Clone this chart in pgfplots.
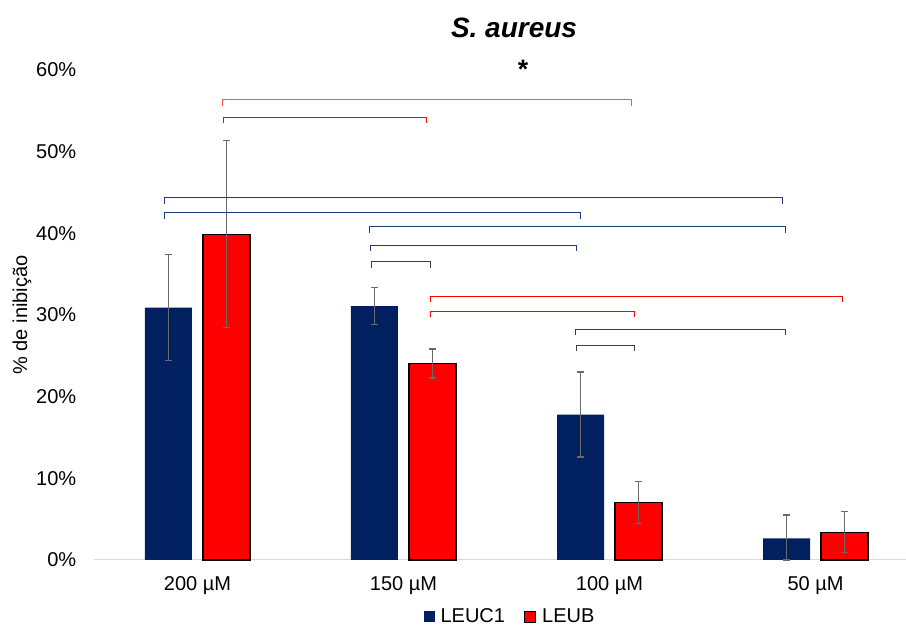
\documentclass[border=0pt]{standalone}
\usepackage{fontspec}
\setmainfont{Liberation Sans}
\usepackage{pgfplots}
\pgfplotsset{compat=1.18}
\definecolor{cblue}{HTML}{002060}
\definecolor{cred}{HTML}{FF0000}
\definecolor{lred}{HTML}{FF5050}
\definecolor{bblue}{HTML}{1F3C7A}
\definecolor{bdark}{HTML}{404040}
\definecolor{errc}{HTML}{6A6A6A}
\definecolor{basec}{HTML}{D9D9D9}
\begin{document}
\begin{tikzpicture}
\begin{axis}[
  scale only axis, width=608.625pt, height=367.5pt,
  xmin=-0.5, xmax=3.4393, ymin=0, ymax=60,
  clip=false,
  axis x line*=bottom, axis y line*=left,
  x axis line style={draw=basec, line width=0.75pt, -},
  y axis line style={draw=none},
  major tick length=0pt,
  xtick={0,1,2,3}, xticklabels={200 µM,150 µM,100 µM,50 µM},
  ytick={0,10,...,60}, yticklabels={0\%,10\%,20\%,30\%,40\%,50\%,60\%},
  tick label style={font=\fontsize{15}{18}\selectfont, inner sep=0pt},
  xticklabel style={anchor=north, yshift=-12pt},
  yticklabel style={anchor=east, xshift=-13.5pt},
  every axis y label/.style={at={(axis description cs:-0.0893,0.5)}, rotate=90, anchor=center, font=\fontsize{15}{18}\selectfont},
  ylabel={\% de inibição},
  legend style={at={(axis description cs:0.512,-0.1163)}, anchor=center, draw=none, fill=none,
    legend columns=2, font=\fontsize{15}{18}\selectfont,
    /tikz/every odd column/.append style={column sep=3pt},
    /tikz/every even column/.append style={column sep=13pt},
    inner sep=0pt, nodes={inner sep=1.5pt}},
]
\addplot[ybar, bar width=35.25pt, bar shift=0pt, fill=cblue, draw=none,
  legend image code/.code={\fill[cblue] (0pt,-4.125pt) rectangle (8.25pt,4.125pt);},
  error bars/.cd, y dir=both, y explicit,
  error bar style={errc, line width=1pt},
  error mark options={errc, rotate=90, mark size=2.6pt, line width=1pt}]
  coordinates {(-0.1408,30.9) += (0,6.5) -= (0,6.5)
               (0.8592,31.1) += (0,2.3) -= (0,2.3)
               (1.8592,17.8) += (0,5.2) -= (0,5.2)
               (2.8592,2.65) += (0,2.85) -= (0,2.65)};
\addlegendentry{LEUC1}
\addplot[ybar, bar width=35.25pt, bar shift=0pt, fill=cred, draw=black, line width=0.8pt,
  legend image code/.code={\draw[fill=cred, draw=black, line width=0.6pt] (0pt,-4.125pt) rectangle (8.25pt,4.125pt);},
  error bars/.cd, y dir=both, y explicit,
  error bar style={errc, line width=1pt},
  error mark options={errc, rotate=90, mark size=2.6pt, line width=1pt}]
  coordinates {(0.1408,39.9) += (0,11.5) -= (0,11.4)
               (1.1408,24.1) += (0,1.75) -= (0,1.8)
               (2.1408,7.05) += (0,2.6) -= (0,2.6)
               (3.1408,3.4) += (0,2.5) -= (0,2.5)};
\addlegendentry{LEUB}
% significance brackets
\addplot[lred, line width=0.75pt, line join=miter, forget plot] coordinates {(0.119,55.63) (0.119,56.33) (2.109,56.33) (2.109,55.63)};
\addplot[cred, line width=0.75pt, line join=miter, forget plot] coordinates {(0.124,53.5) (0.124,54.2) (1.114,54.2) (1.114,53.5)};
\addplot[bblue, line width=0.75pt, line join=miter, forget plot] coordinates {(-0.158,43.63) (-0.158,44.33) (2.842,44.33) (2.842,43.63)};
\addplot[bblue, line width=0.75pt, line join=miter, forget plot] coordinates {(-0.158,41.8) (-0.158,42.5) (1.857,42.5) (1.857,41.8)};
\addplot[bblue, line width=0.75pt, line join=miter, forget plot] coordinates {(0.837,40.1) (0.837,40.8) (2.852,40.8) (2.852,40.1)};
\addplot[bblue, line width=0.75pt, line join=miter, forget plot] coordinates {(0.842,37.8) (0.842,38.5) (1.842,38.5) (1.842,37.8)};
\addplot[bdark, line width=0.75pt, line join=miter, forget plot] coordinates {(0.847,35.8) (0.847,36.5) (1.129,36.5) (1.129,35.8)};
\addplot[cred, line width=0.75pt, line join=miter, forget plot] coordinates {(1.133,31.6) (1.133,32.3) (3.133,32.3) (3.133,31.6)};
\addplot[cred, line width=0.75pt, line join=miter, forget plot] coordinates {(1.133,29.7) (1.133,30.4) (2.119,30.4) (2.119,29.7)};
\addplot[bblue, line width=0.75pt, line join=miter, forget plot] coordinates {(1.833,27.5) (1.833,28.2) (2.852,28.2) (2.852,27.5)};
\addplot[bdark, line width=0.75pt, line join=miter, forget plot] coordinates {(1.842,25.6) (1.842,26.3) (2.119,26.3) (2.119,25.6)};
\node[font=\fontsize{21}{25}\selectfont\bfseries\itshape] at (axis description cs:0.517,1.0857) {S. aureus};
\node[font=\fontsize{20}{24}\selectfont\bfseries, anchor=base, inner sep=0pt] at (axis description cs:0.528,0.9824) {*};
\coordinate (bl) at (axis description cs:0,0);
\coordinate (tr) at (axis description cs:1,1);
\end{axis}
\pgfresetboundingbox
\path[use as bounding box] ([xshift=-70.875pt,yshift=-49.5pt]bl) rectangle ([yshift=52.5pt]tr);
\end{tikzpicture}
\end{document}
